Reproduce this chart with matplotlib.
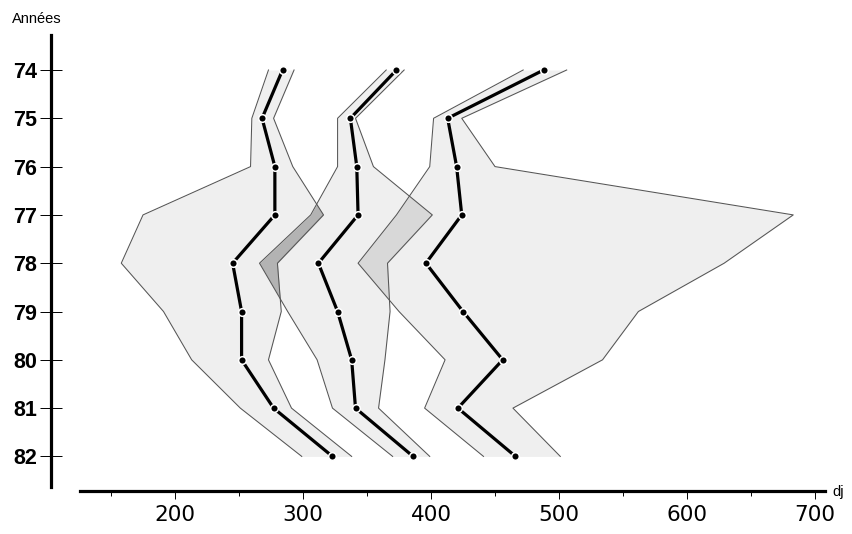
import numpy as np
import matplotlib
matplotlib.use('Agg')
import matplotlib.pyplot as plt

# années et degrés-jours (dj)
annees = [74, 75, 76, 77, 78, 79, 80, 81, 82]
serie_a = [284, 268, 278, 278, 245, 252, 252, 277, 323]
serie_b = [373, 337, 342, 343, 312, 327, 338, 341, 386]
serie_c = [488, 413, 420, 424, 396, 425, 456, 421, 466]
min_a = [273, 260, 259, 175, 158, 191, 213, 251, 299]
max_a = [293, 277, 292, 316, 280, 283, 273, 291, 338]
min_b = [365, 327, 327, 306, 266, 288, 311, 323, 370]
max_b = [379, 341, 355, 401, 366, 368, 364, 359, 399]
min_c = [472, 402, 399, 373, 343, 375, 411, 395, 441]
max_c = [506, 424, 450, 683, 629, 562, 534, 464, 501]
x_ticks = [200, 300, 400, 500, 600, 700]
x_minor = [150, 250, 350, 450, 550, 650]

W, H = 852, 534
fig = plt.figure(figsize=(W / 100, H / 100), dpi=100)
# axe dont le coin bas-gauche est au croisement des deux axes dessinés
ax = fig.add_axes([51 / W, (H - 491) / H, 1 - 51 / W, 491 / H])
ax.set_xlim(103.1, 728.9)
ax.set_ylim(82.716, 72.551)
ax.patch.set_alpha(0)

y = np.array(annees, dtype=float)
env = [(min_a, max_a), (min_b, max_b), (min_c, max_c)]
for lo, hi in env:
    ax.fill_betweenx(y, lo, hi, color='#efefef', lw=0, zorder=1)

# zones de recouvrement
ax.fill_betweenx(y, min_b, max_a, where=np.array(max_a) > np.array(min_b),
                 interpolate=True, color='#b3b3b3', lw=0, zorder=2)
ax.fill_betweenx(y, min_c, max_b, where=np.array(max_b) > np.array(min_c),
                 interpolate=True, color='#d8d8d8', lw=0, zorder=2)

for lo, hi in env:
    ax.plot(lo, y, color='#555555', lw=0.75, zorder=3)
    ax.plot(hi, y, color='#555555', lw=0.75, zorder=3)

for s in [serie_a, serie_b, serie_c]:
    ax.plot(s, y, color='black', lw=2.3, marker='o', ms=5.5,
            mfc='black', mec='white', mew=1.1, zorder=4)

for side in ['top', 'right']:
    ax.spines[side].set_visible(False)
ax.spines['left'].set_linewidth(2.3)
ax.spines['bottom'].set_linewidth(2.3)
ax.spines['left'].set_bounds(82.633, 73.275)
ax.spines['bottom'].set_bounds(126, 708)

ax.set_yticks(annees)
ax.set_yticklabels([str(a) for a in annees], fontfamily='Liberation Sans',
                   fontweight='bold', fontsize=15.5)
ax.tick_params(axis='y', direction='inout', length=16.5, width=0.7, pad=1.5)

ax.set_xticks(x_ticks)
ax.set_xticks(x_minor, minor=True)
ax.set_xticklabels([str(v) for v in x_ticks], fontfamily='DejaVu Sans', fontsize=15.5)
ax.tick_params(axis='x', which='major', direction='out', length=6, width=0.7, pad=4)
ax.tick_params(axis='x', which='minor', direction='out', length=3.5, width=0.7)

fig.text(12 / W, 1 - 19 / H, 'Années', fontfamily='Liberation Sans',
         fontsize=10.5, va='center', ha='left')
fig.text(832 / W, 1 - 492 / H, 'dj', fontfamily='Liberation Sans',
         fontsize=10.5, va='center', ha='left')

fig.savefig('out.png', dpi=100)
